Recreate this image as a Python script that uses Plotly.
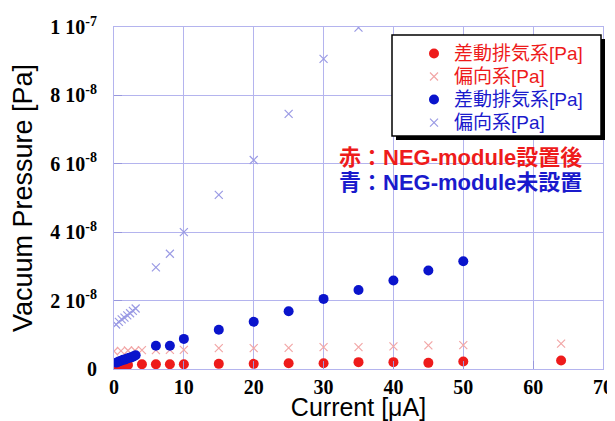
import plotly.graph_objects as go

# ---- data (values in units of 1e-8 Pa) ----
x_red_dot = [0, 0.5, 1, 1.5, 2, 4, 6, 8, 10, 15, 20, 25, 30, 35, 40, 45, 50, 64]
y_red_dot = [0.10, 0.10, 0.11, 0.11, 0.12, 0.14, 0.14, 0.14, 0.14, 0.15, 0.15, 0.17, 0.17, 0.20, 0.20, 0.18, 0.22, 0.25]

x_red_x = [0, 1, 2, 3, 4, 6, 8, 10, 15, 20, 25, 30, 35, 40, 45, 50, 64]
y_red_x = [0.52, 0.53, 0.54, 0.54, 0.55, 0.55, 0.56, 0.56, 0.61, 0.61, 0.62, 0.64, 0.64, 0.66, 0.69, 0.70, 0.74]

x_blue_dot = [0.4, 0.7, 1.0, 1.3, 1.6, 1.9, 2.2, 2.5, 2.8, 3.1, 6, 8, 10, 15, 20, 25, 30, 35, 40, 45, 50]
y_blue_dot = [0.19, 0.22, 0.24, 0.27, 0.28, 0.31, 0.33, 0.34, 0.37, 0.40, 0.68, 0.68, 0.88, 1.15, 1.38, 1.69, 2.05, 2.31, 2.59, 2.88, 3.15]

x_blue_x = [0.3, 0.7, 1.1, 1.5, 1.9, 2.3, 2.7, 3.1, 6, 8, 10, 15, 20, 25, 30, 35]
y_blue_x = [1.30, 1.38, 1.45, 1.50, 1.57, 1.63, 1.70, 1.77, 2.97, 3.37, 4.00, 5.09, 6.11, 7.46, 9.07, 9.98]

legend_names = ["差動排気系[Pa]", "偏向系[Pa]", "差動排気系[Pa]", "偏向系[Pa]"]
legend_colors = ["#ee1b1b", "#ee1b1b", "#1a1acc", "#1a1acc"]

y_tick_vals = [0, 2e-8, 4e-8, 6e-8, 8e-8, 1e-7]
y_tick_text = ["0", "2 10<sup>-8</sup>", "4 10<sup>-8</sup>", "6 10<sup>-8</sup>", "8 10<sup>-8</sup>", "1 10<sup>-7</sup>"]
x_tick_vals = [0, 10, 20, 30, 40, 50, 60, 70]

note_red = "赤：NEG-module設置後"
note_blue = "青：NEG-module未設置"

scale = 1e-8
CJK = "Liberation Sans, Noto Sans CJK JP, sans-serif"
GRID = "#b4b4ee"

fig = go.Figure()
series = [
    (x_red_dot, y_red_dot, "circle", "#ee1b1b", 10),
    (x_red_x, y_red_x, "x-thin", "#f2a6a6", 8),
    (x_blue_dot, y_blue_dot, "circle", "#0a14cc", 10),
    (x_blue_x, y_blue_x, "x-thin", "#9a9ae4", 8),
]
for i, (xs, ys, sym, col, sz) in enumerate(series):
    marker = dict(symbol=sym, color=col, size=sz)
    if sym == "x-thin":
        marker["line"] = dict(color=col, width=1.2)
    fig.add_trace(go.Scatter(
        x=xs, y=[v * scale for v in ys], mode="markers", marker=marker,
        name=f"<span style='color:{legend_colors[i]};font-size:19px'>{legend_names[i]}</span>",
    ))

# page body has an 8px margin; the figure is sized so the plot lands where the reference has it
OFF = 8
W, H = 607, 413
L, R, T, B = 106, 12, 19, 52
pw, ph = W - L - R, H - T - B

def px(xp):  # window pixel -> paper
    return (xp - OFF - L) / pw

def py(yp):
    return (H - B - (yp - OFF)) / ph

# legend box + shadow
bx0, bx1, by0, by1 = 392, 601, 35, 136
fig.add_shape(type="rect", xref="paper", yref="paper",
              x0=px(bx0 + 4), x1=px(bx1 + 4), y0=py(by0 + 4), y1=py(by1 + 4),
              fillcolor="black", line=dict(width=0), layer="above")
fig.add_shape(type="rect", xref="paper", yref="paper",
              x0=px(bx0), x1=px(bx1), y0=py(by0), y1=py(by1),
              fillcolor="white", line=dict(color="black", width=1.5), layer="above")

fig.add_annotation(text=note_red, xref="paper", yref="paper", x=px(337), y=py(157),
                   xanchor="left", yanchor="middle", showarrow=False,
                   font=dict(family=CJK, size=22, color="#ee1b1b", weight="bold"))
fig.add_annotation(text=note_blue, xref="paper", yref="paper", x=px(337), y=py(182),
                   xanchor="left", yanchor="middle", showarrow=False,
                   font=dict(family=CJK, size=22, color="#1a1acc", weight="bold"))

fig.update_layout(
    width=W, height=H,
    margin=dict(l=L, r=R, t=T, b=B),
    paper_bgcolor="white", plot_bgcolor="white",
    showlegend=True,
    legend=dict(x=px(414), y=py(37), xanchor="left", yanchor="top",
                bgcolor="rgba(0,0,0,0)", borderwidth=0,
                font=dict(family=CJK, size=15.4, color="#ee1b1b"),
                itemsizing="trace", tracegroupgap=0),
    xaxis=dict(range=[0, 70], tickvals=x_tick_vals, showgrid=True, gridcolor=GRID, gridwidth=1,
               zeroline=False, showline=True, linecolor=GRID, mirror=True, automargin=False,
               ticks="inside", ticklen=8, tickcolor="#9898dd", ticklabeloverflow="allow",
               tickfont=dict(family="Liberation Serif", size=20, color="black", weight="bold"),
               title=dict(text="Current [μA]", font=dict(family="Liberation Sans", size=25, color="black"),
                          standoff=6)),
    yaxis=dict(range=[0, 1e-7], tickvals=y_tick_vals, ticktext=y_tick_text,
               showgrid=True, gridcolor=GRID, gridwidth=1,
               zeroline=False, showline=True, linecolor=GRID, mirror=True, automargin=False,
               ticks="inside", ticklen=8, tickcolor="#9898dd", ticklabelstandoff=12,
               tickfont=dict(family="Liberation Serif", size=20, color="black", weight="bold"),
               title=dict(text="Vacuum Pressure [Pa]", font=dict(family="Liberation Sans", size=27, color="black"),
                          standoff=19)),
)

fig.write_html("out.html")
